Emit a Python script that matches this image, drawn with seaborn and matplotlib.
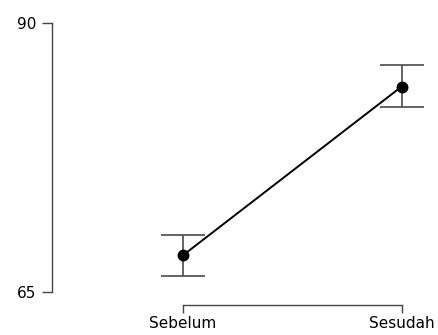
import matplotlib
matplotlib.use("Agg")
import matplotlib.pyplot as plt
import numpy as np
import pandas as pd
import seaborn as sns

# Mean scores with lower/upper interval bounds for each condition
conditions = ["Sebelum", "Sesudah"]
means = [68.4, 84.1]
lower = [66.45, 82.15]
upper = [70.3, 86.1]
y_ticks = [65, 90]

sns.set_theme(style="ticks")
plt.rcParams["font.family"] = ["DejaVu Sans"]

fig = plt.figure(figsize=(4.39, 3.35), dpi=100)
ax = fig.add_axes([52 / 439, 1 - 305 / 335, (435 - 52) / 439, (305 - 23) / 335])

df = pd.DataFrame({"Kondisi": conditions, "Skor": means})

m = np.array(means)
err = [m - np.array(lower), np.array(upper) - m]
ax.errorbar(x=np.arange(len(conditions)), y=m, yerr=err, fmt="none",
            ecolor="#4a4a4a", elinewidth=1.2, capsize=15.5, capthick=1.2, zorder=1)

sns.pointplot(data=df, x="Kondisi", y="Skor", color="black", errorbar=None,
              markersize=7.5, linewidth=1.4, ax=ax, zorder=3)

ax.set_xlim(-0.597, 1.152)
ax.set_ylim(63.8, 90)
ax.set_yticks(y_ticks)
ax.set(xlabel="", ylabel="")

sns.despine(ax=ax, trim=True)
for side in ["left", "bottom"]:
    ax.spines[side].set_color("#444444")
    ax.spines[side].set_linewidth(1.0)

ax.tick_params(axis="y", length=7, width=1.0, color="#444444", pad=4,
               labelsize=11, labelcolor="black")
ax.tick_params(axis="x", length=6, width=1.0, color="#444444", pad=2,
               labelsize=11, labelcolor="black")

fig.savefig("out.png", dpi=100)
